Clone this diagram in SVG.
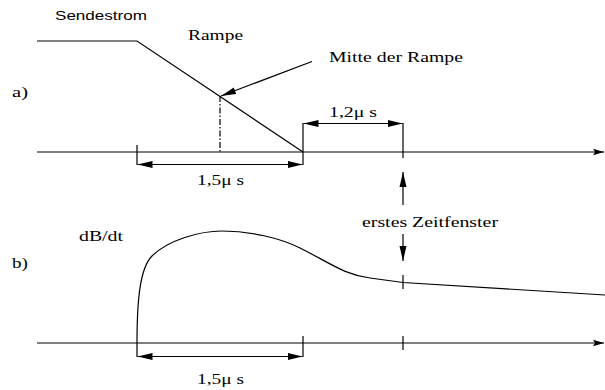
<svg xmlns="http://www.w3.org/2000/svg" width="605" height="390" viewBox="0 0 605 390">
<style>
.ln{stroke:#000;stroke-width:1.2;fill:none}
.t{font-family:"Liberation Serif","Times New Roman",serif;font-size:14px;fill:#000}
.s{font-family:"Liberation Sans",Arial,sans-serif;font-size:13px;fill:#000}
</style>
<defs>
<marker id="ah" markerUnits="userSpaceOnUse" markerWidth="16" markerHeight="8" refX="15" refY="4" orient="auto-start-reverse">
<path d="M0,0.5 L15,4 L0,7.5 Z" fill="#000"/>
</marker>
<marker id="ax" markerUnits="userSpaceOnUse" markerWidth="12" markerHeight="8" refX="11" refY="4" orient="auto">
<path d="M0,0.8 L11,4 L0,7.2 L2,4 Z" fill="#000"/>
</marker>
</defs>
<rect width="605" height="390" fill="#fff"/>
<g id="connectors">
<line class="ln" x1="37" y1="152" x2="604" y2="152" marker-end="url(#ax)"/>
<line class="ln" x1="37" y1="343" x2="604" y2="343" marker-end="url(#ax)"/>
<polyline class="ln" points="37,41 137,41 303,152"/>
<line class="ln" x1="220" y1="96" x2="220" y2="152" stroke-dasharray="6,2,1.5,2"/>
<line class="ln" x1="312" y1="61.5" x2="221" y2="96" marker-end="url(#ah)"/>
<line class="ln" x1="137" y1="145" x2="137" y2="165"/>
<line class="ln" x1="303" y1="123" x2="303" y2="165"/>
<line class="ln" x1="403" y1="123" x2="403" y2="158"/>
<line class="ln" x1="137.5" y1="164.5" x2="302.5" y2="164.5" marker-start="url(#ah)" marker-end="url(#ah)"/>
<line class="ln" x1="303.5" y1="123.5" x2="402.5" y2="123.5" marker-start="url(#ah)" marker-end="url(#ah)"/>
<line class="ln" x1="403" y1="205" x2="403" y2="172" marker-end="url(#ah)"/>
<line class="ln" x1="403" y1="234" x2="403" y2="261" marker-end="url(#ah)"/>
<path class="ln" d="M137,357 L137,343 C137,300 140,268 152,256 C168,240 200,231 222,231 C250,231 280,238 300,248 C330,263 345,275 370,278 L403,282.5 L605,295"/>
<line class="ln" x1="403" y1="275" x2="403" y2="289"/>
<line class="ln" x1="303" y1="336" x2="303" y2="357"/>
<line class="ln" x1="403" y1="336" x2="403" y2="350"/>
<line class="ln" x1="137.5" y1="356.5" x2="302.5" y2="356.5" marker-start="url(#ah)" marker-end="url(#ah)"/>
</g>
<g id="label-sendestrom"><text class="s" x="55" y="20" textLength="92" lengthAdjust="spacingAndGlyphs">Sendestrom</text></g>
<g id="label-rampe"><text class="t" x="188" y="40" textLength="55" lengthAdjust="spacingAndGlyphs">Rampe</text></g>
<g id="label-mitte"><text class="t" x="329" y="61.5" textLength="134" lengthAdjust="spacingAndGlyphs">Mitte der Rampe</text></g>
<g id="label-a"><text class="t" x="12" y="97" textLength="16" lengthAdjust="spacingAndGlyphs">a)</text></g>
<g id="label-12"><text class="t" x="329" y="117" textLength="48" lengthAdjust="spacingAndGlyphs">1,2μ s</text></g>
<g id="label-15a"><text class="t" x="197" y="185" textLength="47" lengthAdjust="spacingAndGlyphs">1,5μ s</text></g>
<g id="label-zeitfenster"><text class="t" x="362" y="226.5" textLength="136" lengthAdjust="spacingAndGlyphs">erstes Zeitfenster</text></g>
<g id="label-dbdt"><text class="t" x="79" y="241" textLength="44" lengthAdjust="spacingAndGlyphs">dB/dt</text></g>
<g id="label-b"><text class="t" x="12" y="268" textLength="16" lengthAdjust="spacingAndGlyphs">b)</text></g>
<g id="label-15b"><text class="t" x="197" y="384" textLength="47" lengthAdjust="spacingAndGlyphs">1,5μ s</text></g>
</svg>
